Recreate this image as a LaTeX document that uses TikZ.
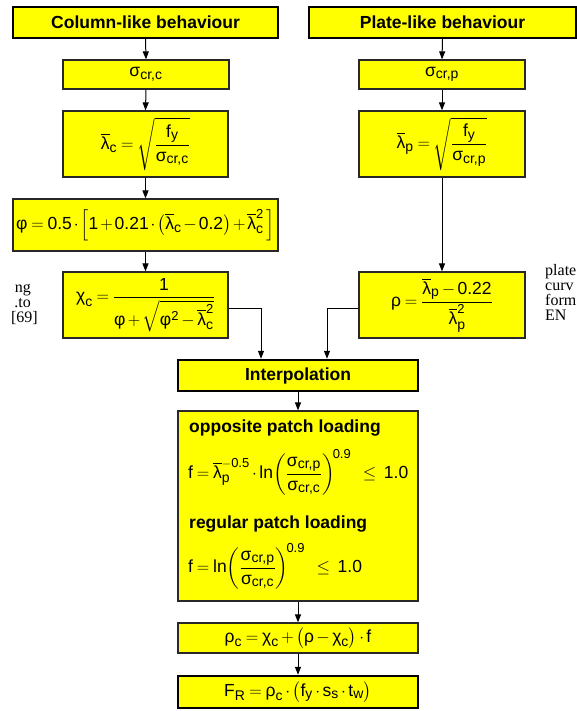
\documentclass[tikz,border=0pt]{standalone}
\usepackage{amsmath}
\usepackage{fontspec}
\setmainfont{Liberation Sans}
\newfontfamily\serifside{Liberation Serif}
\usetikzlibrary{arrows.meta}
\definecolor{boxyellow}{RGB}{255,255,0}
\definecolor{edgegray}{RGB}{40,40,40}
\newcommand\Nm[1]{\text{#1}}
\newcommand\Sb[1]{_{\mbox{\fontsize{14}{16}\selectfont #1}}}
\newcommand\Sp[1]{^{\mbox{\fontsize{13}{15}\selectfont #1}}}
\newcommand\Sg[1]{\text{σ}\Sb{#1}}
\newcommand\Lb{\overline{\text{λ}}}
\newcommand\fsz{\fontsize{17.5}{20}\selectfont\medmuskip=2.5mu plus 1mu\thickmuskip=4mu plus 2mu}
\begin{document}
\begin{tikzpicture}[x=1pt,y=-1pt,
  ybox/.style={draw=edgegray, fill=boxyellow, line width=1.2pt, inner sep=0pt, font=\fsz},
  tbox/.style={ybox, draw=black, line width=2.4pt, font=\fsz\bfseries},
  arr/.style={-{Triangle[length=8pt,width=6pt]}, line width=1pt},
  side/.style={font=\serifside\fontsize{16}{18}\selectfont, inner sep=0pt}]
\useasboundingbox (0,0) rectangle (577,711);
\begin{scope}
\clip (0,0) rectangle (577,711);
% left column
\node[tbox, minimum width=265pt, minimum height=31pt] (col) at (145.5,22.5) {Column-like behaviour};
\node[ybox, minimum width=166pt, minimum height=29pt] (sigc) at (146,74.5) {$\Sg{cr,c}$};
\node[ybox, minimum width=165pt, minimum height=66pt] (lamc) at (145.5,144) {$\Lb\Sb{c} = \sqrt{\dfrac{\text{f}\Sb{y}}{\Sg{cr,c}}}$};
\node[ybox, minimum width=265pt, minimum height=52pt] (phi) at (145.5,225) {\medmuskip=2mu$\text{φ} = \Nm{0.5}\cdot\Bigl[\Nm{1}+\Nm{0.21}\cdot\bigl(\Lb\Sb{c}-\Nm{0.2}\bigr)+\Lb\Sb{c}\Sp{2}\,\Bigr]$};
\node[ybox, minimum width=165pt, minimum height=66pt] (chic) at (145.5,305) {$\text{χ}\Sb{c} = \dfrac{\Nm{1}}{\text{φ}+\sqrt{\text{φ}\Sp{2}-\Lb\Sb{c}\Sp{2}}}$};
% right column
\node[tbox, minimum width=267pt, minimum height=31pt] (plate) at (442.5,22.5) {Plate-like behaviour};
\node[ybox, minimum width=166pt, minimum height=29pt] (sigp) at (442,74.5) {$\Sg{cr,p}$};
\node[ybox, minimum width=166pt, minimum height=66pt] (lamp) at (442,144) {$\Lb\Sb{p} = \sqrt{\dfrac{\text{f}\Sb{y}}{\Sg{cr,p}}}$};
\node[ybox, minimum width=166pt, minimum height=66pt] (rho) at (442,305) {$\text{ρ} = \dfrac{\Lb\Sb{p}-\Nm{0.22}}{\Lb\Sb{p}\Sp{2}}$};
% centre column
\node[tbox, minimum width=240pt, minimum height=31pt] (interp) at (298,375.5) {Interpolation};
\node[ybox, minimum width=240pt, minimum height=190pt] (big) at (298,506) {};
\node[anchor=base west, inner sep=0pt, font=\fsz\bfseries] (t1) at (189,432) {opposite patch loading};
\node[anchor=west, inner sep=0pt, font=\fsz] (f1) at (188,472) {$\text{f} = \Lb\Sb{p}\Sp{$-$0.5}\cdot\text{ln}\!\left(\dfrac{\Sg{cr,p}}{\Sg{cr,c}}\right)^{\!\mbox{\fontsize{13}{15}\selectfont 0.9}}\;\;\le\;\Nm{1.0}$};
\node[anchor=base west, inner sep=0pt, font=\fsz\bfseries] (t2) at (189,528) {regular patch loading};
\node[anchor=west, inner sep=0pt, font=\fsz] (f2) at (188,566) {$\text{f} = \text{ln}\!\left(\dfrac{\Sg{cr,p}}{\Sg{cr,c}}\right)^{\!\mbox{\fontsize{13}{15}\selectfont 0.9}}\;\;\le\;\Nm{1.0}$};
\node[ybox, minimum width=240pt, minimum height=30pt] (rhoc) at (298,638) {$\text{ρ}\Sb{c} = \text{χ}\Sb{c} + \bigl(\text{ρ}-\text{χ}\Sb{c}\bigr)\cdot\text{f}$};
\node[tbox, font=\fsz, minimum width=240pt, minimum height=32pt] (FR) at (298,692) {$\text{F}\Sb{R} = \text{ρ}\Sb{c}\cdot\bigl(\text{f}\Sb{y}\cdot\text{s}\Sb{s}\cdot\text{t}\Sb{w}\bigr)$};
% connectors
\draw[arr] (col.south) -- (sigc.north);
\draw[arr] (sigc.south) -- (lamc.north);
\draw[arr] (lamc.south) -- (phi.north);
\draw[arr] (phi.south) -- (chic.north);
\draw[arr] (plate.south) -- (sigp.north);
\draw[arr] (sigp.south) -- (lamp.north);
\draw[arr] (lamp.south) -- (rho.north);
\draw[arr] ([yshift=-3pt]chic.east) -| ([xshift=-37pt]interp.north);
\draw[arr] ([yshift=-3pt]rho.west) -| ([xshift=29pt]interp.north);
\draw[arr] (interp.south) -- (big.north);
\draw[arr] (big.south) -- (rhoc.north);
\draw[arr] (rhoc.south) -- (FR.north);
% cropped side text
\node[side, anchor=base east] (l1) at (31,292) {ng};
\node[side, anchor=base east] (l2) at (31,307) {.to};
\node[side, anchor=base east] (l3) at (38,322) {[69]};
\node[side, anchor=base west] (r1) at (545,275) {plate};
\node[side, anchor=base west] (r2) at (545,290) {curv};
\node[side, anchor=base west] (r3) at (545,305) {form};
\node[side, anchor=base west] (r4) at (545,320) {EN};
\end{scope}
\end{tikzpicture}
\end{document}
